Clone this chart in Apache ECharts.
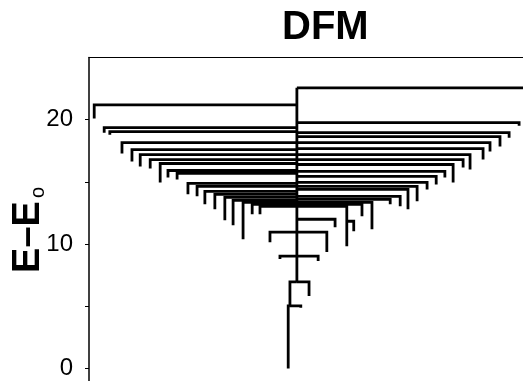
<!DOCTYPE html>
<html><head><meta charset="utf-8">
<script src="https://cdn.jsdelivr.net/npm/echarts@6/dist/echarts.min.js"></script>
<style>html,body{margin:0;padding:0;background:#fff}#c{width:523px;height:381px}</style>
</head><body><div id="c"></div>
<script>
// Disconnectivity graph (DFM). Each branch: horizontal at join energy from parent x to leaf x, then drop to minimum energy.
const branchNames = ['trunk','R1','L1','L2','L3','L4','L5','L6','L7','L8','L9','L10','L11','L12','L13','L14','L15','L16','L17','L18','L19',
  'R2','R3','R4','R5','R6','R7','R8','R9','R10','R11','R12','R13','R14','R15','R16','R17','R18','R19','R19b',
  'C1','C2L','C2R','C3L','C3R','C4L','C4R','C5L','C5R'];
const branchParentX = [47.9,47.9,47.9,47.9,47.9,47.9,47.9,47.9,47.9,47.9,47.9,47.9,47.9,47.9,47.9,47.9,47.9,47.9,47.9,47.9,47.9,
  47.9,47.9,47.9,47.9,47.9,47.9,47.9,47.9,47.9,47.9,47.9,47.9,47.9,47.9,47.9,47.9,47.9,47.9,59.4,
  47.9,47.9,47.9,47.9,47.9,47.9,47.9,46.3,46.3];
const branchJoinE = [22.56,22.56,21.2,19.36,19.04,18.16,17.6,17.2,16.8,16.48,15.92,15.68,14.88,14.64,14.24,14.0,13.76,13.52,13.36,13.2,13.04,
  19.76,18.96,18.64,18.16,17.68,17.2,16.8,16.4,15.84,15.44,14.96,14.64,14.4,13.84,13.6,13.36,13.2,13.04,11.84,
  12.0,10.96,10.96,9.04,9.04,6.96,6.96,5.04,5.04];
const branchLeafX = [47.9,101,1.2,3.5,4.8,7.6,9.9,11.8,14.1,16.4,18.2,20.3,22.8,24.9,26.7,29.0,31.3,33.2,35.5,37.6,39.4,
  99.1,96.8,94.7,92.4,90.8,87.8,86.2,83.9,82.0,80.0,77.9,75.6,73.5,71.7,69.4,65.2,62.9,59.4,61.0,
  56.7,41.7,54.8,44.0,52.8,46.3,50.7,45.9,48.8];
const branchMinE = [6.96,20.0,20.1,18.96,18.8,17.28,16.64,16.24,16.08,14.96,15.36,15.2,14.0,13.84,13.2,12.8,11.92,11.52,10.4,12.4,12.4,
  19.52,18.56,17.84,17.44,16.8,16.0,16.16,14.96,15.36,14.8,14.4,13.44,12.8,13.04,13.2,11.2,12.24,9.84,11.04,
  11.36,10.16,9.36,8.8,8.64,5.04,5.84,0,4.88];
const yTickValues = [0,5,10,15,20];
const yLabelValues = [0,10,20];
const titleText = 'DFM';

const lineData = branchNames.map((n,i)=>({
  name:n,
  coords:[[branchParentX[i],branchJoinE[i]],[branchLeafX[i],branchJoinE[i]],[branchLeafX[i],branchMinE[i]]]
}));

const chart = echarts.init(document.getElementById('c'));
chart.setOption({
  animation:false,
  backgroundColor:'#fff',
  title:{text:titleText,left:282,top:8,padding:0,textStyle:{fontFamily:'Liberation Sans',fontWeight:'bold',fontSize:40,color:'#000'}},
  grid:{left:89,right:0,top:57.5,bottom:-1.5},
  xAxis:{type:'value',min:0,max:100,position:'top',
    axisLine:{show:true,onZero:false,lineStyle:{color:'#000',width:1}},
    axisTick:{show:false},axisLabel:{show:false},splitLine:{show:false}},
  yAxis:{type:'value',min:-1,max:25,
    axisLine:{show:true,onZero:false,lineStyle:{color:'#000',width:1.5}},
    axisTick:{show:true,inside:false,length:4,customValues:yTickValues,lineStyle:{color:'#000',width:1}},
    axisLabel:{show:true,customValues:yLabelValues,fontFamily:'Liberation Sans',fontSize:24,color:'#000',margin:16},
    splitLine:{show:false}},
  graphic:[
    {type:'text',x:29,y:237,rotation:Math.PI/2,style:{text:'E–E',font:'bold 38px "Liberation Sans"',fill:'#000',align:'center',verticalAlign:'middle'}},
    {type:'text',x:38,y:192.5,rotation:Math.PI/2,style:{text:'o',font:'20px "Liberation Sans"',fill:'#000',align:'center',verticalAlign:'middle'}}
  ],
  series:[{type:'lines',coordinateSystem:'cartesian2d',polyline:true,clip:true,
    lineStyle:{color:'#000',width:2.8,opacity:1,join:'miter'},
    data:lineData}]
});
</script></body></html>
